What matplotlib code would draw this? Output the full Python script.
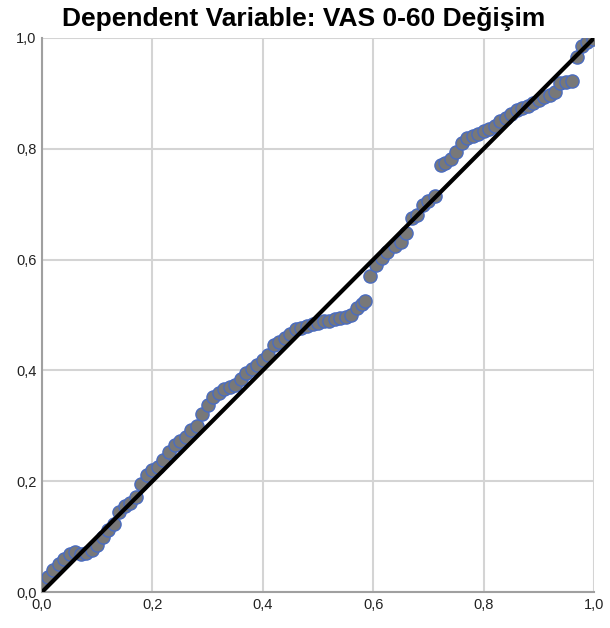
import matplotlib.pyplot as plt
from matplotlib.ticker import FuncFormatter

observed = [
    0.0, 0.01, 0.02, 0.03, 0.04, 0.05, 0.06, 0.07, 0.08, 0.09,
    0.10, 0.11, 0.12, 0.13, 0.14, 0.15, 0.16, 0.17, 0.18, 0.19,
    0.20, 0.21, 0.22, 0.23, 0.24, 0.25, 0.26, 0.27, 0.28, 0.29,
    0.30, 0.31, 0.32, 0.33, 0.34, 0.35, 0.36, 0.37, 0.38, 0.39,
    0.40, 0.41, 0.42, 0.43, 0.44, 0.45, 0.46, 0.47, 0.48, 0.49,
    0.50, 0.51, 0.52, 0.53, 0.54, 0.55, 0.56, 0.57, 0.58, 0.585,
    0.595, 0.605, 0.615, 0.625, 0.64, 0.65, 0.66, 0.67, 0.68, 0.69,
    0.70, 0.712, 0.722, 0.73, 0.74, 0.75, 0.76, 0.77, 0.78, 0.79,
    0.80, 0.81, 0.82, 0.83, 0.84, 0.85, 0.86, 0.87, 0.88, 0.89,
    0.90, 0.91, 0.92, 0.93, 0.938, 0.95, 0.96, 0.97, 0.978, 0.988,
    0.998,
]
expected = [
    0.016, 0.028, 0.04, 0.05, 0.06, 0.068, 0.073, 0.068, 0.07, 0.076,
    0.085, 0.10, 0.112, 0.122, 0.145, 0.155, 0.16, 0.172, 0.195, 0.212,
    0.22, 0.225, 0.238, 0.252, 0.265, 0.272, 0.28, 0.292, 0.30, 0.322,
    0.338, 0.352, 0.36, 0.366, 0.37, 0.373, 0.385, 0.395, 0.402, 0.41,
    0.418, 0.428, 0.445, 0.452, 0.458, 0.465, 0.475, 0.477, 0.48, 0.483,
    0.486, 0.489, 0.49, 0.492, 0.494, 0.496, 0.50, 0.512, 0.52, 0.525,
    0.571, 0.59, 0.603, 0.614, 0.625, 0.632, 0.648, 0.675, 0.68, 0.698,
    0.705, 0.714, 0.77, 0.775, 0.782, 0.795, 0.81, 0.82, 0.823, 0.826,
    0.832, 0.836, 0.842, 0.85, 0.855, 0.862, 0.87, 0.873, 0.878, 0.882,
    0.888, 0.893, 0.898, 0.903, 0.918, 0.92, 0.923, 0.966, 0.985, 0.993,
    0.998,
]
ticks = [0.0, 0.2, 0.4, 0.6, 0.8, 1.0]

plt.rcParams["font.family"] = ["Liberation Sans", "DejaVu Sans"]

fig = plt.figure(figsize=(6.1, 6.28), dpi=100)
ax = fig.add_axes([0.0689, 0.0573, 0.9049, 0.8822])

ax.scatter(observed, expected, s=90, c="#787878", edgecolors="#4a6cc0",
           linewidths=1.0, zorder=3)
ax.plot([0, 1], [0, 1], color="black", linewidth=3, zorder=4)

ax.set_xlim(0, 1)
ax.set_ylim(0, 1)
ax.set_xticks(ticks)
ax.set_yticks(ticks)
fmt = FuncFormatter(lambda v, p: f"{v:.1f}".replace(".", ","))
ax.xaxis.set_major_formatter(fmt)
ax.yaxis.set_major_formatter(fmt)
ax.tick_params(length=0, labelsize=10.5, colors="#222222", pad=4)
ax.grid(True, color="#d4d4d4", linewidth=1.5)
ax.set_axisbelow(True)
for side in ["top", "right"]:
    ax.spines[side].set_visible(False)
for side in ["left", "bottom"]:
    ax.spines[side].set_color("#a0a0a0")
    ax.spines[side].set_linewidth(1.5)

fig.text(0.498, 0.970, "Dependent Variable: VAS 0-60 Değişim",
         ha="center", va="center", fontsize=19, fontweight="bold")

fig.savefig("out.png", dpi=100)
plt.close(fig)
